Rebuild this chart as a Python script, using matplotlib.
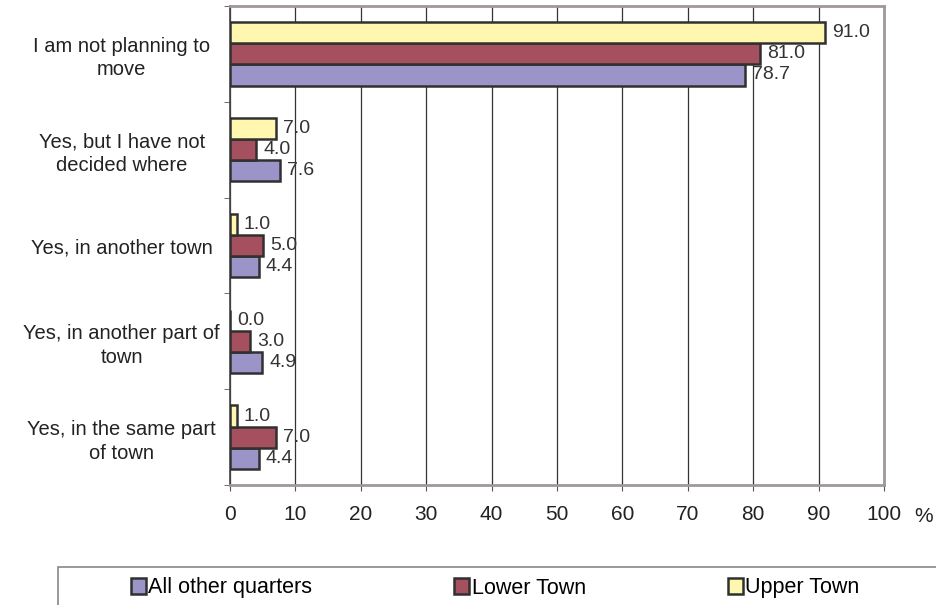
import numpy as np
import matplotlib.pyplot as plt
from matplotlib.patches import Rectangle

plt.rcParams['font.family'] = ['Liberation Sans', 'DejaVu Sans']

categories = ['I am not planning to\nmove',
              'Yes, but I have not\ndecided where',
              'Yes, in another town',
              'Yes, in another part of\ntown',
              'Yes, in the same part\nof town']
series = ['All other quarters', 'Lower Town', 'Upper Town']
other = [78.7, 7.6, 4.4, 4.9, 4.4]
lower = [81.0, 4.0, 5.0, 3.0, 7.0]
upper = [91.0, 7.0, 1.0, 0.0, 1.0]
colors = ['#9a94c8', '#a5505f', '#fff7b0']
xticks = np.arange(0, 101, 10)

fig = plt.figure(figsize=(9.37, 6.05), dpi=100)
ax = fig.add_axes([230 / 937, 1 - 485 / 605, 654 / 937, 479 / 605])

y = np.arange(len(categories))  # 0 at top after inversion
h = 0.22
offsets = [h, 0, -h]  # purple at bottom of group, yellow on top
for vals, off, c, name in zip([other, lower, upper], offsets, colors, series):
    bars = ax.barh(y + off, vals, height=h, color=c, edgecolor='#303030',
                   linewidth=1.8, label=name, zorder=3)
    for b, v in zip(bars, vals):
        ax.text(v + 1.1, b.get_y() + h / 2, f'{v:.1f}', va='center', ha='left',
                fontsize=14, color='#333333', zorder=4)

ax.set_ylim(len(categories) - 0.5, -0.5)
ax.set_xlim(0, 100)
ax.set_xticks(xticks)
ax.set_xticklabels([str(t) for t in xticks], fontsize=15, color='#222222')
ax.set_yticks(np.arange(len(categories) + 1) - 0.5, minor=True)
ax.set_yticks(y)
ax.set_yticklabels(categories, fontsize=14.5, ha='center', linespacing=1.3,
                   color='#222222')
ax.tick_params(axis='y', which='major', length=0, pad=78)
ax.tick_params(axis='y', which='minor', length=4, color='#555555', direction='out')
ax.tick_params(axis='x', length=4, color='#555555', direction='out', pad=10.5)
ax.xaxis.grid(True, color='#333333', linewidth=0.9, zorder=0)
for s in ['top', 'right', 'bottom']:
    ax.spines[s].set_color('#a09898')
    ax.spines[s].set_linewidth(2)
ax.spines['left'].set_color('#444444')
ax.spines['left'].set_linewidth(1.2)
fig.text(924 / 937, 1 - 517 / 605, '%', fontsize=15, ha='center', va='center',
         color='#222222')

# legend box runs off the right and bottom edge of the picture
fig.patches.append(Rectangle((58 / 937, -0.05), 0.99, 1 - 567 / 605 + 0.05,
                             transform=fig.transFigure, fill=False,
                             edgecolor='#888888', linewidth=1.2))
handles, labels = ax.get_legend_handles_labels()
leg = fig.legend(handles, labels, loc='center left', ncol=3,
                 bbox_to_anchor=(131 / 937, 1 - 588 / 605), fontsize=15.5,
                 frameon=False, handlelength=0.7, handleheight=0.7,
                 handletextpad=0.1, columnspacing=6.6, borderpad=0,
                 borderaxespad=0)

fig.savefig('out.png', dpi=100)
